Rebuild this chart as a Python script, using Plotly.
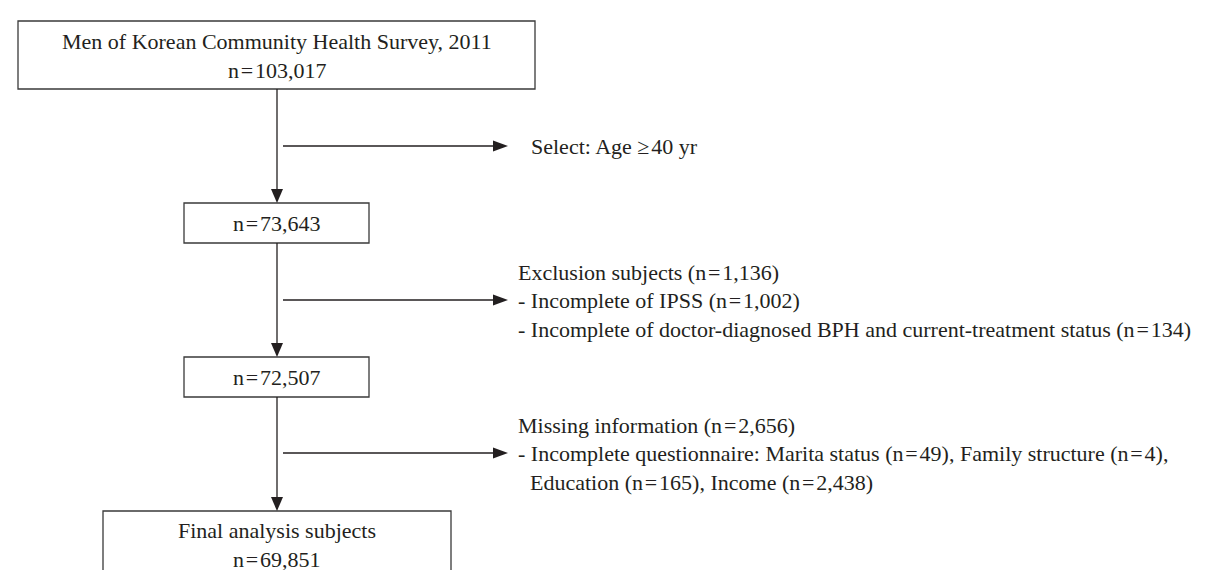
import plotly.graph_objects as go

EQ = "\u200a=\u200a"

# ---------------- data ----------------
box_titles = ["Men of Korean Community Health Survey, 2011", "", "", "Final analysis subjects"]
box_counts = [103017, 73643, 72507, 69851]

step_headers = ["Select: Age \u2265\u200a40 yr",
                f"Exclusion subjects (n{EQ}1,136)",
                f"Missing information (n{EQ}2,656)"]
step_items = [
    [],
    [f"- Incomplete of IPSS (n{EQ}1,002)",
     f"- Incomplete of doctor-diagnosed BPH and current-treatment status (n{EQ}134)"],
    [f"- Incomplete questionnaire: Marita status (n{EQ}49), Family structure (n{EQ}4),",
     f"  Education (n{EQ}165), Income (n{EQ}2,438)"],
]

# ---------------- layout geometry (pixels) ----------------
W, H = 1210, 570
CX = 269
boxes = [  # x0, x1, y0, y1
    (10, 527, 13, 81),
    (176, 361, 195, 235),
    (176, 361, 349, 389),
    (95, 443, 503, 600),
]
arrow_y = [138, 292, 445]
arrow_x0, arrow_x1 = 275, 500
text_x = [521, 508, 508]
FONT = dict(family="Liberation Serif", size=22, color="#231f20")
LINE = "#231f20"

fig = go.Figure()
shapes = []
annotations = []

def tri_down(x, y, w=6, h=14):
    return f"M {x-w},{y-h} L {x+w},{y-h} L {x},{y} Z"

def tri_right(x, y, w=5.5, l=15):
    return f"M {x-l},{y-w} L {x-l},{y+w} L {x},{y} Z"

for i, (x0, x1, y0, y1) in enumerate(boxes):
    shapes.append(dict(type="rect", x0=x0, x1=x1, y0=y0, y1=y1,
                       line=dict(color="#3a3a3a", width=1.3), fillcolor="white", layer="below"))
    n_txt = f"n{EQ}{box_counts[i]:,}"
    if box_titles[i]:
        if i == 3:
            ty1, ty2 = 522, 551
        else:
            ty1, ty2 = (y0 + y1) / 2 - 14, (y0 + y1) / 2 + 15
        annotations.append(dict(x=CX, y=ty1, text=box_titles[i], showarrow=False,
                                xanchor="center", yanchor="middle", font=FONT))
        annotations.append(dict(x=CX, y=ty2, text=n_txt, showarrow=False,
                                xanchor="center", yanchor="middle", font=FONT))
    else:
        annotations.append(dict(x=CX, y=(y0 + y1) / 2, text=n_txt, showarrow=False,
                                xanchor="center", yanchor="middle", font=FONT))

# vertical connectors with arrowheads
for i in range(3):
    ya = boxes[i][3]
    yb = boxes[i + 1][2]
    shapes.append(dict(type="line", x0=CX, x1=CX, y0=ya, y1=yb - 12,
                       line=dict(color=LINE, width=1.3)))
    shapes.append(dict(type="path", path=tri_down(CX, yb), fillcolor=LINE,
                       line=dict(color=LINE, width=0)))

# horizontal side arrows and texts
for i in range(3):
    y = arrow_y[i]
    shapes.append(dict(type="line", x0=arrow_x0, x1=arrow_x1 - 12, y0=y, y1=y,
                       line=dict(color=LINE, width=1.3)))
    shapes.append(dict(type="path", path=tri_right(arrow_x1, y), fillcolor=LINE,
                       line=dict(color=LINE, width=0)))
    lines = [step_headers[i]] + step_items[i]
    if i == 0:
        ys = [y]
    else:
        ys = [y - 28 + 28.5 * k for k in range(len(lines))]
    for txt, yy in zip(lines, ys):
        indent = 0
        if txt.startswith("  "):
            txt = txt.strip()
            indent = 12
        annotations.append(dict(x=text_x[i] + indent, y=yy, text=txt, showarrow=False,
                                xanchor="left", yanchor="middle", font=FONT))

fig.update_layout(
    width=W, height=H,
    margin=dict(l=0, r=0, t=0, b=0),
    paper_bgcolor="white", plot_bgcolor="white",
    xaxis=dict(range=[0, W], visible=False, fixedrange=True),
    yaxis=dict(range=[H, 0], visible=False, fixedrange=True),
    shapes=shapes, annotations=annotations, showlegend=False,
)
fig.write_html("out.html")
